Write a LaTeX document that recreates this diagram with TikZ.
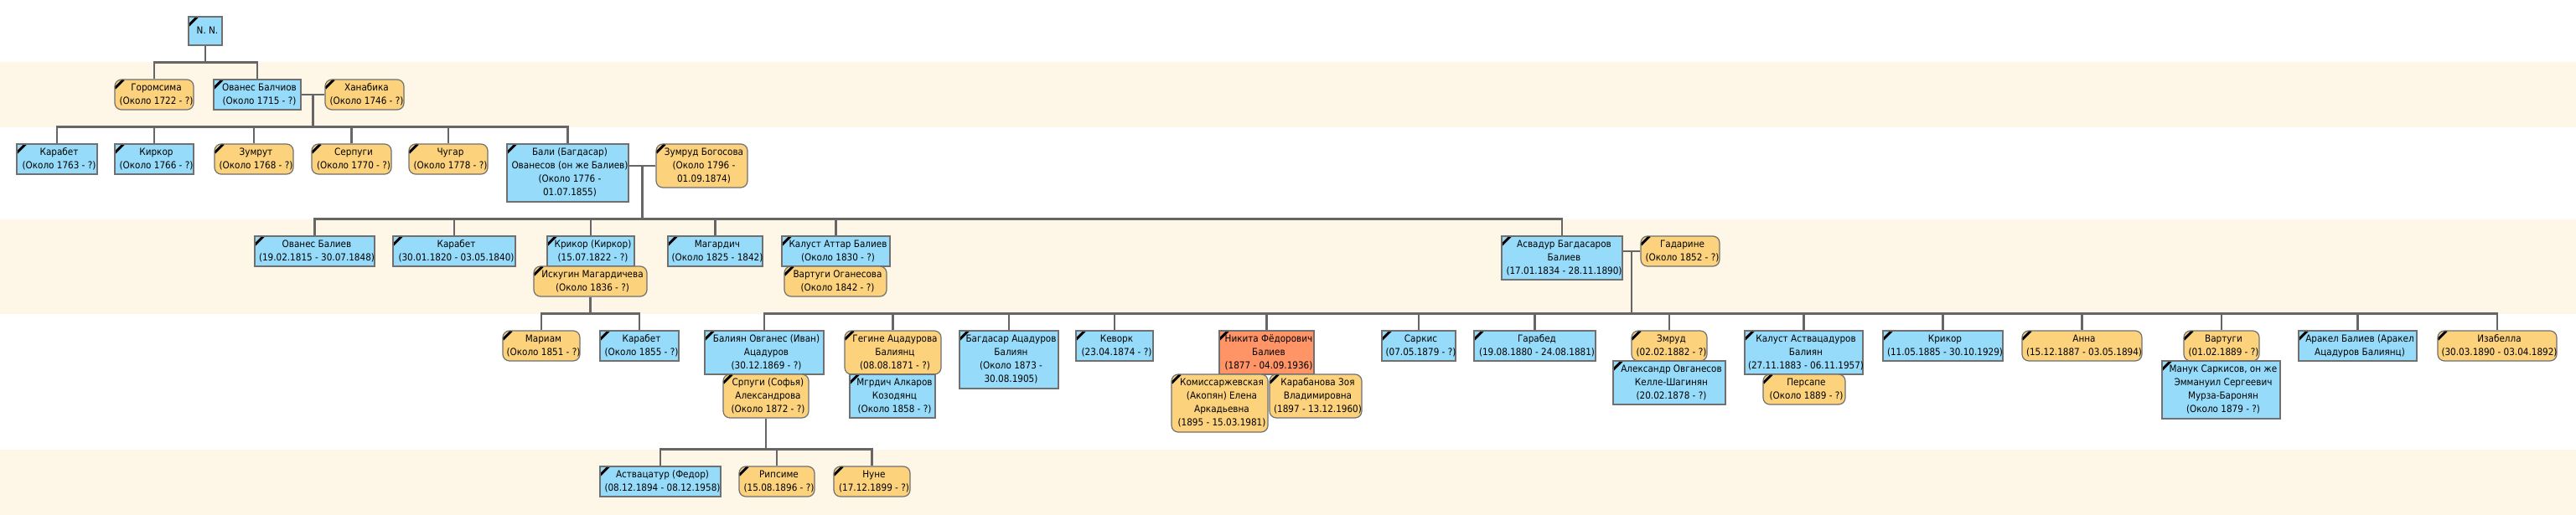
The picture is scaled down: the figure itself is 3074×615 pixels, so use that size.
\documentclass[tikz,border=0pt]{standalone}
\usepackage{fontspec}
\setmainfont{DejaVu Sans Condensed}
\definecolor{mblue}{HTML}{96DCFA}
\definecolor{fyellow}{HTML}{FCD27D}
\definecolor{salmon}{HTML}{FF9466}
\definecolor{boxline}{HTML}{707070}
\definecolor{lgray}{HTML}{666666}
\definecolor{band}{HTML}{FEF6E6}
\tikzset{
  person/.style={draw=boxline, line width=1.2pt, inner sep=0pt,
    font=\fontsize{11.6}{16}\selectfont, text=black,
    path picture={\draw[black, line width=3pt]
      ([yshift=-10.5pt]path picture bounding box.north west) --
      ([xshift=10.5pt]path picture bounding box.north west);}},
  male/.style={person, fill=mblue},
  female/.style={person, fill=fyellow, rounded corners=8pt},
  hilite/.style={person, fill=salmon},
  conn/.style={draw=lgray, line width=2.1pt},
}
\newcommand\famnode[7]{\node[#2, minimum width=#5pt-#3pt, minimum height=#6pt-#4pt] (#1) at ({(#3+#5)/2},{(#4+#6)/2}) {\hspace*{2.5pt}\begin{tabular}{@{}c@{}}#7\end{tabular}\hspace*{-2.5pt}};}
\begin{document}
\begin{tikzpicture}[x=1pt,y=-1pt]
\useasboundingbox (0,0) rectangle (3074,615);
\fill[white] (0,0) rectangle (3074,615);
\fill[band] (0,74.5) rectangle (3074,152);
\fill[band] (0,261.5) rectangle (3074,374.5);
\fill[band] (0,536.5) rectangle (3074,615);

% generation 0-1
\famnode{nn}{male}{225}{20}{265}{54}{N. N.}
\famnode{gor}{female}{137}{95}{231}{131}{Горомсима\\(Около 1722 - ?)}
\famnode{ovb}{male}{255}{95}{359}{131}{Ованес Балчиов\\(Около 1715 - ?)}
\famnode{khan}{female}{388}{95}{482}{131}{Ханабика\\(Около 1746 - ?)}
% generation 2
\famnode{kar1}{male}{20}{172}{116}{208}{Карабет\\(Около 1763 - ?)}
\famnode{kirk}{male}{137}{172}{231}{208}{Киркор\\(Около 1766 - ?)}
\famnode{zum}{female}{256}{172}{350}{208}{Зумрут\\(Около 1768 - ?)}
\famnode{serp}{female}{372}{172}{467}{208}{Серпуги\\(Около 1770 - ?)}
\famnode{chug}{female}{488}{172}{582}{208}{Чугар\\(Около 1778 - ?)}
\famnode{bali}{male}{605}{172}{750}{241}{Бали (Багдасар)\\Ованесов (он же Балиев)\\(Около 1776 -\\01.07.1855)}
\famnode{zb}{female}{783}{172}{892}{224}{Зумруд Богосова\\(Около 1796 -\\01.09.1874)}
% generation 3
\famnode{ovbal}{male}{304}{282}{447}{318}{Ованес Балиев\\(19.02.1815 - 30.07.1848)}
\famnode{kar2}{male}{469}{282}{615}{318}{Карабет\\(30.01.1820 - 03.05.1840)}
\famnode{krik}{male}{653}{282}{757}{318}{Крикор (Киркор)\\(15.07.1822 - ?)}
\famnode{isk}{female}{637}{318}{772}{354}{Искугин Магардичева\\(Около 1836 - ?)}
\famnode{mag}{male}{797}{282}{910}{318}{Магардич\\(Около 1825 - 1842)}
\famnode{kal}{male}{933}{282}{1062}{318}{Калуст Аттар Балиев\\(Около 1830 - ?)}
\famnode{vog}{female}{936}{318}{1058}{354}{Вартуги Оганесова\\(Около 1842 - ?)}
\famnode{asv}{male}{1792}{282}{1936}{334}{Асвадур Багдасаров\\Балиев\\(17.01.1834 - 28.11.1890)}
\famnode{gad}{female}{1958}{282}{2052}{318}{Гадарине\\(Около 1852 - ?)}
% generation 4
\famnode{mar}{female}{600}{395}{692}{431}{Мариам\\(Около 1851 - ?)}
\famnode{kar3}{male}{716}{395}{810}{431}{Карабет\\(Около 1855 - ?)}
\famnode{baliyan}{male}{841}{395}{983}{447}{Балиян Овганес (Иван)\\Ацадуров\\(30.12.1869 - ?)}
\famnode{srp}{female}{863}{447}{965}{499}{Српуги (Софья)\\Александрова\\(Около 1872 - ?)}
\famnode{geg}{female}{1008}{395}{1123}{447}{Гегине Ацадурова\\Балиянц\\(08.08.1871 - ?)}
\famnode{mgr}{male}{1014}{447}{1116}{499}{Мгрдич Алкаров\\Козодянц\\(Около 1858 - ?)}
\famnode{bag}{male}{1145}{395}{1263}{464}{Багдасар Ацадуров\\Балиян\\(Около 1873 -\\30.08.1905)}
\famnode{kev}{male}{1284}{395}{1376}{431}{Кеворк\\(23.04.1874 - ?)}
\famnode{nik}{hilite}{1455}{395}{1568}{447}{Никита Фёдорович\\Балиев\\(1877 - 04.09.1936)}
\famnode{kom}{female}{1398}{447}{1513}{516}{Комиссаржевская\\(Акопян) Елена\\Аркадьевна\\(1895 - 15.03.1981)}
\famnode{karab}{female}{1515}{447}{1625}{499}{Карабанова Зоя\\Владимировна\\(1897 - 13.12.1960)}
\famnode{sark}{male}{1649}{395}{1737}{431}{Саркис\\(07.05.1879 - ?)}
\famnode{garab}{male}{1759}{395}{1904}{431}{Гарабед\\(19.08.1880 - 24.08.1881)}
\famnode{zmr}{female}{1947}{395}{2037}{431}{Змруд\\(02.02.1882 - ?)}
\famnode{alex}{male}{1925}{431}{2059}{483}{Александр Овганесов\\Келле-Шагинян\\(20.02.1878 - ?)}
\famnode{kala}{male}{2082}{395}{2223}{447}{Калуст Аствацадуров\\Балиян\\(27.11.1883 - 06.11.1957)}
\famnode{pers}{female}{2104}{447}{2202}{483}{Персапе\\(Около 1889 - ?)}
\famnode{krik2}{male}{2247}{395}{2390}{431}{Крикор\\(11.05.1885 - 30.10.1929)}
\famnode{anna}{female}{2413}{395}{2556}{431}{Анна\\(15.12.1887 - 03.05.1894)}
\famnode{vart}{female}{2606}{395}{2696}{431}{Вартуги\\(01.02.1889 - ?)}
\famnode{manuk}{male}{2580}{431}{2721}{500}{Манук Саркисов, он же\\Эммануил Сергеевич\\Мурза-Баронян\\(Около 1879 - ?)}
\famnode{arak}{male}{2743}{395}{2884}{431}{Аракел Балиев (Аракел\\Ацадуров Балиянц)}
\famnode{izab}{female}{2909}{395}{3051}{431}{Изабелла\\(30.03.1890 - 03.04.1892)}
% generation 5
\famnode{astv}{male}{716}{557}{860}{593}{Аствацатур (Федор)\\(08.12.1894 - 08.12.1958)}
\famnode{rips}{female}{882}{557}{972}{593}{Рипсиме\\(15.08.1896 - ?)}
\famnode{nune}{female}{995}{557}{1086}{593}{Нуне\\(17.12.1899 - ?)}

% bus levels
\coordinate (b1) at (0,74.5);
\coordinate (b2) at (0,151.5);
\coordinate (b3) at (0,261.5);
\coordinate (b4) at (0,374.5);
\coordinate (b5) at (0,536.5);

% connectors
\draw[conn] (nn.south) -- (nn.south |- b1);
\draw[conn] (gor.north) -- (gor.north |- b1) -| (ovb.north);

\draw[conn] (ovb.east) -- (khan.west);
\coordinate (j1) at (373.5,113);
\draw[conn] (j1) -- (j1 |- b2);
\draw[conn] (kar1.north) -- (kar1.north |- b2) -| (bali.north);
\foreach \n in {kirk,zum,serp,chug} \draw[conn] (\n.north) -- (\n.north |- b2);

\draw[conn] (zb.west) -- (zb.west -| bali.east);
\coordinate (j2) at (766.5,198);
\draw[conn] (j2) -- (j2 |- b3);
\draw[conn] (ovbal.north) -- (ovbal.north |- b3) -| (asv.north);
\foreach \n in {kar2,krik,mag,kal} \draw[conn] (\n.north) -- (\n.north |- b3);

\draw[conn] (isk.south) -- (isk.south |- b4);
\draw[conn] (mar.north) -- (mar.north |- b4) -| (kar3.north);

\draw[conn] (gad.west) -- (gad.west -| asv.east);
\coordinate (j3) at (1947,300);
\draw[conn] (j3) -- (j3 |- b4);
\draw[conn] (baliyan.north) -- (baliyan.north |- b4) -| (izab.north);
\foreach \n in {geg,bag,kev,nik,sark,garab,zmr,kala,krik2,anna,vart,arak} \draw[conn] (\n.north) -- (\n.north |- b4);

\draw[conn] (srp.south) -- (srp.south |- b5);
\draw[conn] (astv.north) -- (astv.north |- b5) -| (nune.north);
\draw[conn] (rips.north) -- (rips.north |- b5);
\end{tikzpicture}
\end{document}
